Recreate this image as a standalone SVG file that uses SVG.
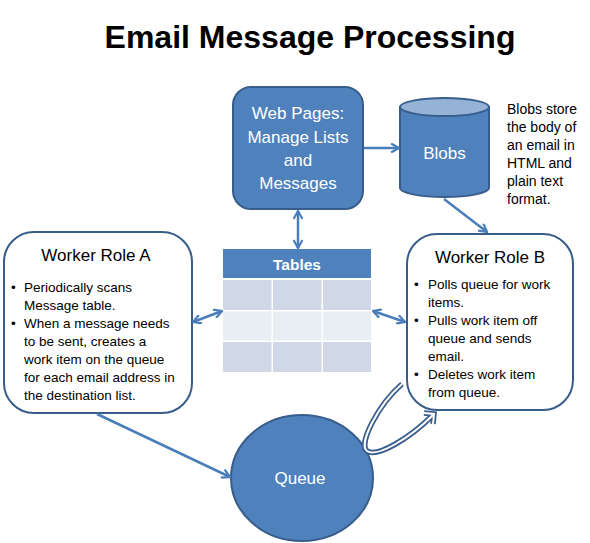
<svg xmlns="http://www.w3.org/2000/svg" width="590" height="543" viewBox="0 0 590 543">
<style>
  text { font-family: "Liberation Sans", Arial, sans-serif; }
  .title { font-size: 32px; font-weight: bold; fill: #000; }
  .wt { font-size: 17px; fill: #fff; }
  .bt { font-size: 17px; fill: #000; }
  .body { font-size: 13.5px; fill: #000; }
  .note { font-size: 14px; fill: #000; }
  .blue { fill: #4F81BD; stroke: #385D8A; stroke-width: 2; }
  .role { fill: #fff; stroke: #385D8A; stroke-width: 2; }
  .conn { fill: none; stroke: #4A7EBB; stroke-width: 2.5; }
  .hdr { fill: #4F81BD; }
  .r1 { fill: #D0D8E8; }
  .r2 { fill: #E9EDF4; }
</style>
<defs>
  <marker id="ah" viewBox="0 0 10 10" refX="9" refY="5" markerWidth="10" markerHeight="10" markerUnits="userSpaceOnUse" orient="auto-start-reverse">
    <path d="M1,0.5 L9,5 L1,9.5" fill="none" stroke="#4A7EBB" stroke-width="2.2" stroke-linejoin="miter"/>
  </marker>
</defs>
<rect width="590" height="543" fill="#fff"/>
<text class="title" x="310" y="48" text-anchor="middle">Email Message Processing</text>

<g id="web-pages">
  <rect class="blue" x="233" y="87" width="130" height="122" rx="18"/>
  <text class="wt" x="298" y="119" text-anchor="middle">Web Pages:</text>
  <text class="wt" x="298" y="143" text-anchor="middle">Manage Lists</text>
  <text class="wt" x="298" y="166" text-anchor="middle">and</text>
  <text class="wt" x="298" y="189" text-anchor="middle">Messages</text>
</g>

<g id="blobs">
  <path class="blue" d="M400,107 L400,188 A44.5,9 0 0 0 489,188 L489,107 Z"/>
  <ellipse cx="444.5" cy="107" rx="44.5" ry="9" fill="#95B3D7" stroke="#385D8A" stroke-width="2"/>
  <text class="wt" x="444.5" y="159" text-anchor="middle">Blobs</text>
</g>

<g id="blobs-note">
  <text class="note" x="507" y="114">Blobs store</text>
  <text class="note" x="507" y="132">the body of</text>
  <text class="note" x="507" y="150">an email in</text>
  <text class="note" x="507" y="168">HTML and</text>
  <text class="note" x="507" y="186">plain text</text>
  <text class="note" x="507" y="204">format.</text>
</g>

<g id="tables">
  <rect class="hdr" x="223" y="249" width="148" height="29"/>
  <text x="297" y="270" text-anchor="middle" style="font-size:15.5px;font-weight:bold;fill:#fff">Tables</text>
  <rect class="r1" x="223" y="280" width="48.5" height="30"/>
  <rect class="r1" x="273" y="280" width="48.5" height="30"/>
  <rect class="r1" x="323" y="280" width="48" height="30"/>
  <rect class="r2" x="223" y="311.5" width="48.5" height="29"/>
  <rect class="r2" x="273" y="311.5" width="48.5" height="29"/>
  <rect class="r2" x="323" y="311.5" width="48" height="29"/>
  <rect class="r1" x="223" y="342" width="48.5" height="30"/>
  <rect class="r1" x="273" y="342" width="48.5" height="30"/>
  <rect class="r1" x="323" y="342" width="48" height="30"/>
</g>

<g id="worker-role-a">
  <rect class="role" x="4" y="232" width="188" height="181" rx="30"/>
  <text class="bt" x="96" y="261" text-anchor="middle">Worker Role A</text>
  <text class="body" x="11" y="292">•</text>
  <text class="body" x="24" y="292">Periodically scans</text>
  <text class="body" x="24" y="310">Message table.</text>
  <text class="body" x="11" y="328">•</text>
  <text class="body" x="24" y="328">When a message needs</text>
  <text class="body" x="24" y="346">to be sent, creates a</text>
  <text class="body" x="24" y="364">work item on the queue</text>
  <text class="body" x="24" y="382">for each email address in</text>
  <text class="body" x="24" y="400">the destination list.</text>
</g>

<g id="worker-role-b">
  <rect class="role" x="407" y="234" width="166" height="176" rx="30"/>
  <text class="bt" x="490" y="263" text-anchor="middle">Worker Role B</text>
  <text class="body" x="414" y="289">•</text>
  <text class="body" x="428" y="289">Polls queue for work</text>
  <text class="body" x="428" y="307">items.</text>
  <text class="body" x="414" y="325">•</text>
  <text class="body" x="428" y="325">Pulls work item off</text>
  <text class="body" x="428" y="343">queue and sends</text>
  <text class="body" x="428" y="361">email.</text>
  <text class="body" x="414" y="379">•</text>
  <text class="body" x="428" y="379">Deletes work item</text>
  <text class="body" x="428" y="397">from queue.</text>
</g>

<g id="queue">
  <ellipse class="blue" cx="302" cy="478" rx="71" ry="63"/>
  <text class="wt" x="300" y="484" text-anchor="middle">Queue</text>
</g>

<g id="connectors">
  <line class="conn" x1="364" y1="148" x2="399" y2="148" marker-end="url(#ah)"/>
  <line class="conn" x1="444" y1="199" x2="487" y2="232" marker-end="url(#ah)"/>
  <line class="conn" x1="298" y1="211" x2="298" y2="248" marker-start="url(#ah)" marker-end="url(#ah)"/>
  <line class="conn" x1="193" y1="322" x2="222" y2="311" marker-start="url(#ah)" marker-end="url(#ah)"/>
  <line class="conn" x1="373" y1="311" x2="405" y2="322" marker-start="url(#ah)" marker-end="url(#ah)"/>
  <line class="conn" x1="97" y1="414" x2="230" y2="477" marker-end="url(#ah)"/>
  <g id="loop-arrow" fill="none" stroke-linecap="butt" stroke-linejoin="miter">
    <path d="M402,384 C378,405 358,444 367,451 C377,458 410,438 433,415" stroke="#385D8A" stroke-width="5.5"/>
    <path d="M424,413 L434,414 L433,424" stroke="#385D8A" stroke-width="5.5"/>
    <path d="M402,384 C378,405 358,444 367,451 C377,458 410,438 433,415" stroke="#fff" stroke-width="2"/>
    <path d="M424,413 L434,414 L433,424" stroke="#fff" stroke-width="2"/>
  </g>
</g>
</svg>
